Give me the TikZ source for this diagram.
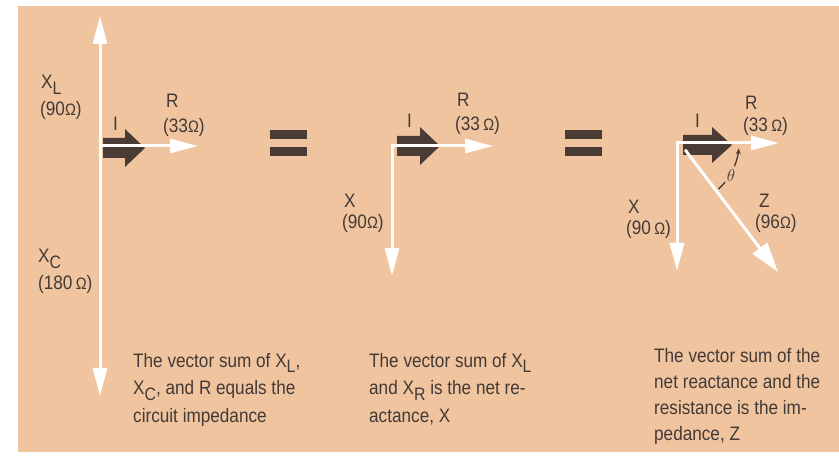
\documentclass[tikz,border=0pt]{standalone}
\usepackage{fontspec}
\setmainfont{Liberation Sans}[FakeStretch=0.88]
\usetikzlibrary{arrows.meta}
\definecolor{peach}{RGB}{241,196,160}
\definecolor{inkbrown}{RGB}{74,60,52}
\definecolor{textgray}{RGB}{66,58,54}
\newcommand{\lowsub}[1]{\raisebox{-0.55ex}{\fontsize{18}{18}\selectfont #1}}
\newcommand{\ohms}{{\fontsize{16.5}{16.5}\selectfont Ω}}

\begin{document}
\begin{tikzpicture}[x=1pt, y=-1pt,
        vec/.style={white, line width=3pt, line cap=rect, -{Triangle[length=28pt,width=14pt]}},
        lbl/.style={font=\fontsize{19.5}{22}\selectfont, text=textgray, inner sep=0pt, anchor=base west},
        note/.style={lbl, align=left, font=\fontsize{19.5}{27.5}\selectfont}]
        \useasboundingbox (0,0) rectangle (839,457);
        % BACKGROUND
        \fill[white] (0,0) rectangle (839,457);
        \fill[peach] (18,6) rectangle (839,452);
        % ORIGINS AND TIPS
        \coordinate (o1) at (100,146);
        \coordinate (xl1) at (100,16);
        \coordinate (xc1) at (100,396);
        \coordinate (r1) at (198,146);
        \coordinate (o2) at (392,146);
        \coordinate (x2) at (392,276);
        \coordinate (r2) at (493,146);
        \coordinate (o3) at (677,143);
        \coordinate (x3) at (677,271);
        \coordinate (r3) at (779,143);
        \coordinate (zf3) at (686,151);
        \coordinate (zt3) at (778,272);
        % CURRENT (I) BLOCK ARROWS
        \foreach \x/\y/\t/\h in {103/148/145/19, 397/146/440/19, 683/145/732/18} {
            \fill[inkbrown] (\x,\y-10) -- (\t-20,\y-10) -- (\t-20,\y-\h) -- (\t,\y)
                -- (\t-20,\y+\h) -- (\t-20,\y+10) -- (\x,\y+10) -- cycle;
        }
        % EQUALS SIGNS
        \foreach \x in {270,565} {
            \fill[inkbrown] (\x,130) rectangle ++(37,9);
            \fill[inkbrown] (\x,147) rectangle ++(37,9);
        }
        % VECTORS
        \draw[vec] (o1) -- (xl1);
        \draw[vec] (o1) -- (xc1);
        \draw[vec] (o1) -- (r1);
        \draw[vec] (o2) -- (x2);
        \draw[vec] (o2) -- (r2);
        \draw[vec] (o3) -- (x3);
        \draw[vec] (o3) -- (r3);
        \draw[vec, -{Triangle[length=30pt,width=18pt]}] (zf3) -- (zt3);
        % ANGLE THETA
        \draw[inkbrown, line width=1.3pt] ([shift={(48:62)}]o3) arc[start angle=48, end angle=39, radius=62];
        \draw[inkbrown, line width=1.3pt, -{Stealth[length=6pt,width=5pt]}]
            ([shift={(22:62)}]o3) arc[start angle=22, end angle=5, radius=62];
        \node[text=textgray, inner sep=0pt, font=\fontsize{17}{17}\selectfont] (th) at ([shift={(31:63)}]o3) {$\theta$};
        % LABELS, PANEL 1
        \node[lbl] (xl) at (41,89) {X\lowsub{L}};
        \node[lbl] (xlv) at (40,116) {(90\ohms)};
        \node[lbl] (ri1) at (113,131) {I};
        \node[lbl] (rl1) at (166,108) {R};
        \node[lbl] (rv1) at (163,133) {(33\ohms)};
        \node[lbl] (xc) at (38,263) {X\lowsub{C}};
        \node[lbl] (xcv) at (38,290) {(180\,\ohms)};
        % LABELS, PANEL 2
        \node[lbl] (ri2) at (407,128) {I};
        \node[lbl] (rl2) at (457,107) {R};
        \node[lbl] (rv2) at (455,131) {(33\,\ohms)};
        \node[lbl] (xn2) at (344,208) {X};
        \node[lbl] (xv2) at (342,229) {(90\ohms)};
        % LABELS, PANEL 3
        \node[lbl] (ri3) at (695,128) {I};
        \node[lbl] (rl3) at (745,110) {R};
        \node[lbl] (rv3) at (743,132) {(33\,\ohms)};
        \node[lbl] (zn3) at (759,208) {Z};
        \node[lbl] (zv3) at (755,229) {(96\ohms)};
        \node[lbl] (xn3) at (628,214) {X};
        \node[lbl] (xv3) at (626,235) {(90\,\ohms)};
        % CAPTIONS (base = last line)
        \node[note] (cap1) at (133,422) {The vector sum of X\lowsub{L},\\X\lowsub{C}, and R equals the\\circuit impedance};
        \node[note] (cap2) at (369,422) {The vector sum of X\lowsub{L}\\and X\lowsub{R} is the net re-\\actance, X};
        \node[note, font=\fontsize{19.5}{25.7}\selectfont] (cap3) at (654,440) {The vector sum of the\\net reactance and the\\resistance is the im-\\pedance, Z};
    \end{tikzpicture}
\end{document}
